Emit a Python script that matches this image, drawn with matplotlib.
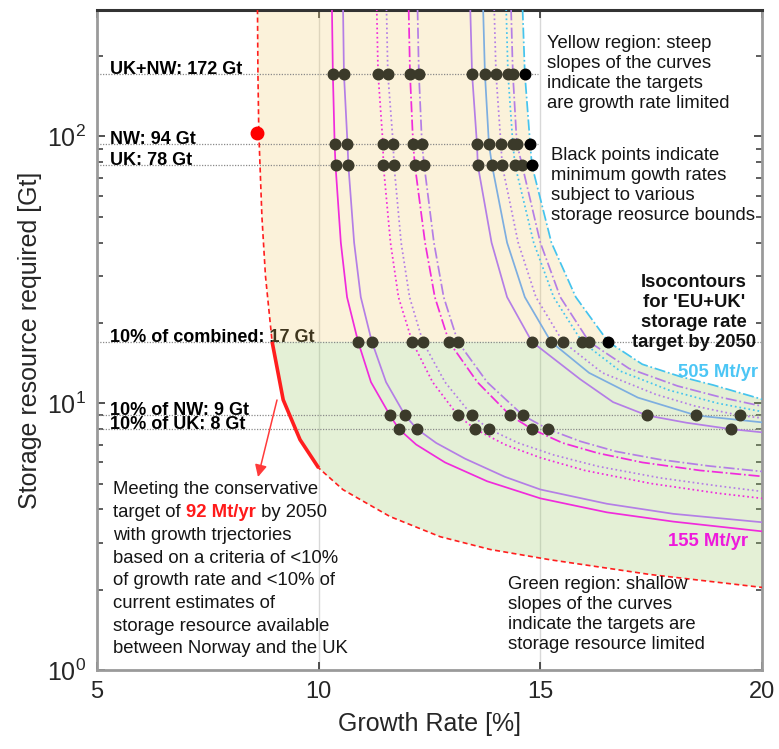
import numpy as np
import matplotlib
matplotlib.use("Agg")
import matplotlib.pyplot as plt

plt.rcParams['font.family'] = ['Liberation Sans', 'DejaVu Sans']
plt.rcParams['mathtext.fontset'] = 'custom'
plt.rcParams['mathtext.rm'] = 'Liberation Sans'
plt.rcParams['mathtext.it'] = 'Liberation Sans:italic'
plt.rcParams['mathtext.bf'] = 'Liberation Sans:bold'

# ---------------------------------------------------------------- data
# storage resource bounds [Gt]
bound_values = [172, 94, 78, 17, 9, 8]
bound_labels = ["UK+NW: 172 Gt", "NW: 94 Gt", "UK: 78 Gt",
                "10% of combined: 17 Gt", "10% of NW: 9 Gt", "10% of UK: 8 Gt"]

# conservative target (92 Mt/yr): growth rate [%] vs storage required [Gt]
red_growth = [8.62, 8.63, 8.65, 8.72, 8.80, 8.95, 9.20, 9.58, 10.00, 10.55,
              11.61, 12.74, 13.87, 15.22, 17.48, 20.00]
red_storage = [300, 172, 103, 50, 30, 17, 10.3, 7.3, 5.72, 4.74,
               3.76, 3.16, 2.83, 2.59, 2.28, 2.04]
red_point = (8.60, 103)

# isocontours of the 'EU+UK' storage rate targets
m1_growth = [10.30, 10.32, 10.36, 10.38, 10.50, 10.64, 10.89, 11.18, 11.61, 11.81,
             12.20, 12.85, 13.80, 15.00, 16.50, 18.00, 20.00]
m1_storage = [300, 172, 94, 78, 40, 25, 17, 12, 9, 8, 7.0, 6.0, 5.1, 4.40, 3.90, 3.60, 3.31]

p1_growth = [10.55, 10.57, 10.65, 10.67, 10.80, 10.95, 11.20, 11.52, 11.95, 12.22,
             12.65, 13.30, 14.20, 15.00, 16.50, 18.00, 20.00]
p1_storage = [300, 172, 94, 78, 40, 25, 17, 12, 9, 8, 7.1, 6.2, 5.3, 4.75, 4.2, 3.85, 3.58]

m2_growth = [11.31, 11.34, 11.45, 11.46, 11.62, 11.80, 12.11, 12.57, 13.14, 13.53,
             14.20, 15.00, 16.00, 17.50, 19.00, 20.00]
m2_storage = [300, 172, 94, 78, 40, 25, 17, 12, 9, 8, 7.0, 6.25, 5.6, 5.0, 4.6, 4.40]

p2_growth = [11.53, 11.56, 11.68, 11.70, 11.86, 12.05, 12.35, 12.85, 13.46, 13.84,
             14.50, 15.30, 16.30, 17.70, 19.00, 20.00]
p2_storage = [300, 172, 94, 78, 40, 25, 17, 12, 9, 8, 7.1, 6.4, 5.8, 5.25, 4.9, 4.67]

m3_growth = [12.03, 12.06, 12.13, 12.17, 12.40, 12.62, 12.94, 13.58, 14.32, 14.81,
             15.50, 16.30, 17.30, 18.60, 20.00]
m3_storage = [300, 172, 94, 78, 40, 25, 17, 12, 9, 8, 7.1, 6.5, 6.0, 5.6, 5.32]

p3_growth = [12.23, 12.26, 12.33, 12.38, 12.60, 12.82, 13.14, 13.80, 14.61, 15.17,
             15.90, 16.70, 17.70, 18.80, 20.00]
p3_storage = [300, 172, 94, 78, 40, 25, 17, 12, 9, 8, 7.2, 6.6, 6.15, 5.82, 5.55]

l1_growth = [13.42, 13.46, 13.57, 13.59, 13.90, 14.25, 14.81, 15.90, 16.64, 17.41,
             18.30, 19.30, 20.00]
l1_storage = [300, 172, 94, 78, 40, 25, 17, 12.3, 10.1, 9, 8.45, 8, 7.78]

b1_growth = [13.71, 13.75, 13.84, 13.91, 14.25, 14.65, 15.24, 16.10, 17.20, 18.52, 20.00]
b1_storage = [300, 172, 94, 78, 40, 25, 17, 13, 10.5, 9, 8.48]

l2_growth = [13.96, 14.00, 14.11, 14.14, 14.50, 14.90, 15.51, 16.40, 17.60, 18.50,
             19.50, 20.00]
l2_storage = [300, 172, 94, 78, 40, 25, 17, 13, 10.8, 9.75, 9, 8.8]

c2_growth = [14.23, 14.27, 14.38, 14.43, 14.85, 15.30, 15.94, 16.80, 17.90, 19.00, 20.00]
c2_storage = [300, 172, 94, 78, 40, 25, 17, 13.2, 11.2, 10.0, 9.3]

l3_growth = [14.34, 14.38, 14.47, 14.59, 15.00, 15.45, 16.10, 17.00, 18.10, 19.10, 20.00]
l3_storage = [300, 172, 94, 78, 40, 25, 17, 13.5, 11.6, 10.5, 9.75]

c3_growth = [14.60, 14.65, 14.77, 14.81, 15.25, 15.80, 16.53, 17.30, 18.15, 18.90, 20.00]
c3_storage = [300, 172, 94, 78, 40, 25, 17, 14.0, 12.6, 11.7, 10.35]

MAGENTA = '#F02BDC'
PURPLE = '#B47EE6'
BLUE = '#7DAEE0'
CYAN = '#45C4EE'
RED = '#FF1E1E'

curves = [
    (m1_growth, m1_storage, MAGENTA, '-'),
    (p1_growth, p1_storage, PURPLE, '-'),
    (m2_growth, m2_storage, MAGENTA, ':'),
    (p2_growth, p2_storage, PURPLE, ':'),
    (m3_growth, m3_storage, MAGENTA, '-.'),
    (p3_growth, p3_storage, PURPLE, '-.'),
    (l1_growth, l1_storage, PURPLE, '-'),
    (b1_growth, b1_storage, BLUE, '-'),
    (l2_growth, l2_storage, PURPLE, ':'),
    (c2_growth, c2_storage, CYAN, ':'),
    (l3_growth, l3_storage, PURPLE, '-.'),
    (c3_growth, c3_storage, CYAN, '-.'),
]

# ---------------------------------------------------------------- figure
W, H = 779, 749
fig = plt.figure(figsize=(W / 100, H / 100), dpi=100)
ax = fig.add_axes([97 / W, 1 - 670 / H, (762 - 97) / W, (670 - 10) / H])
ax.set_yscale('log')
ax.set_xlim(5, 20)
ax.set_ylim(1, 298)

# growth-limited (yellow) and storage-limited (green) regions
yel_x = [g for g, s in zip(red_growth, red_storage) if s >= 17] + \
        [g for g, s in zip(c3_growth, c3_storage) if s >= 17][::-1]
yel_y = [s for s in red_storage if s >= 17] + [s for s in c3_storage if s >= 17][::-1]
grn_x = [g for g, s in zip(red_growth, red_storage) if s <= 17] + \
        [g for g, s in zip(c3_growth, c3_storage) if s <= 17][::-1]
grn_y = [s for s in red_storage if s <= 17] + [s for s in c3_storage if s <= 17][::-1]
ax.fill(yel_x, yel_y, color='#F2CF72', alpha=0.26, lw=0, zorder=2)
ax.fill(grn_x, grn_y, color='#9CCB6A', alpha=0.27, lw=0, zorder=2)

# vertical grid lines
for gx in (10, 15):
    ax.axvline(gx, color='#D8D8D8', lw=1.0, zorder=0.5)

# resource bound lines and labels
ylab = ax.get_yaxis_transform()
for val, lab in zip(bound_values, bound_labels):
    x_end = 14.95 if val > 50 else 20
    ax.plot([5, x_end], [val, val], color='#8A8A8A', lw=0.9, ls=(0, (1, 1.2)), zorder=2.5)
    ax.text(0.0195, val, lab, transform=ylab, fontsize=13, fontweight='bold',
            color='black', va='baseline', ha='left', zorder=1)

# isocontours
for g, s, c, ls in curves:
    ax.plot(g, s, color=c, ls=ls, lw=1.25, zorder=3)

# conservative target curve
ax.plot(red_growth, red_storage, color=RED, ls=(0, (3, 2)), lw=1.2, zorder=3.2)
thick = [(g, s) for g, s in zip(red_growth, red_storage) if s <= 17 and g <= 10.0]
ax.plot([t[0] for t in thick], [t[1] for t in thick], color=RED, lw=2.6,
        solid_capstyle='butt', zorder=3.3)
ax.plot(*red_point, 'o', color='#FF0000', ms=9, zorder=5)

# minimum growth rates at each storage bound
for val in bound_values:
    for i, (g, s, c, ls) in enumerate(curves):
        if val in s:
            gx = g[s.index(val)]
            col = 'black' if i == len(curves) - 1 else '#3B3A2A'
            ax.plot(gx, val, 'o', color=col, ms=7.6, zorder=4)

# ---------------------------------------------------------------- annotations
txt = dict(fontsize=13.3, color='#151515', linespacing=1.22, zorder=6)
ax.text(0.677, 0.962, "Yellow region: steep\nslopes of the curves\nindicate the targets\nare growth rate limited",
        transform=ax.transAxes, va='top', ha='left', **txt)
ax.text(0.682, 0.792, "Black points indicate\nminimum gowth rates\nsubject to various\nstorage reosurce bounds",
        transform=ax.transAxes, va='top', ha='left', **txt)
ax.text(0.898, 0.600, "Isocontours\nfor 'EU+UK'\nstorage rate\ntarget by 2050",
        transform=ax.transAxes, va='top', ha='center', multialignment='center',
        fontsize=13.3, fontweight='bold', color='#111111', linespacing=1.22, zorder=6)
ax.text(0.994, 0.4515, "505 Mt/yr", transform=ax.transAxes, va='center', ha='right',
        fontsize=13.3, fontweight='bold', color='#4CC6F5', zorder=6)
ax.text(0.979, 0.194, "155 Mt/yr", transform=ax.transAxes, va='center', ha='right',
        fontsize=13.3, fontweight='bold', color='#EE1ADC', zorder=6)
ax.text(0.618, 0.142, "Green region: shallow\nslopes of the curves\nindicate the targets are\nstorage resource limited",
        transform=ax.transAxes, va='top', ha='left', **txt)

meet_lines = ["Meeting the conservative", None, "with growth trjectories",
              "based on a criteria of <10%", "of growth rate and <10% of",
              "current estimates of", "storage resource available",
              "between Norway and the UK"]
x0 = (113 - 97) / 665
y_top = (670 - 490) / 660
dy = 22.7 / 660
fig.canvas.draw()
renderer = fig.canvas.get_renderer()
for k, line in enumerate(meet_lines):
    yk = y_top - k * dy
    if line is not None:
        ax.text(x0, yk, line, transform=ax.transAxes, va='center', ha='left',
                fontsize=13.3, color='#151515', zorder=6)
    else:
        t1 = ax.text(x0, yk, "target of ", transform=ax.transAxes, va='center', ha='left',
                     fontsize=13.3, color='#151515', zorder=6)
        bb = t1.get_window_extent(renderer).transformed(ax.transAxes.inverted())
        t2 = ax.text(bb.x1, yk, "92 Mt/yr", transform=ax.transAxes, va='center', ha='left',
                     fontsize=13.3, fontweight='bold', color='#FF1A1A', zorder=6)
        bb2 = t2.get_window_extent(renderer).transformed(ax.transAxes.inverted())
        ax.text(bb2.x1, yk, " by 2050", transform=ax.transAxes, va='center', ha='left',
                fontsize=13.3, color='#151515', zorder=6)

ax.annotate("", xy=((258 - 97) / 665, (670 - 477) / 660),
            xytext=((277 - 97) / 665, (670 - 400) / 660),
            xycoords=ax.transAxes, textcoords=ax.transAxes,
            arrowprops=dict(arrowstyle='-|>', color='#FF3A3A', lw=1.1,
                            mutation_scale=18, shrinkA=0, shrinkB=0), zorder=6)

# ---------------------------------------------------------------- axes styling
ax.set_xticks([5, 10, 15, 20])
ax.set_xticklabels(['5', '10', '15', '20'])
ax.tick_params(axis='both', which='major', direction='in', length=6, width=1.2,
               color='#333333', labelsize=17, labelcolor='#262626',
               top=True, right=True, pad=8)
ax.tick_params(axis='y', which='minor', direction='in', length=4, width=1.1,
               color='#333333', right=True, left=True)
ax.tick_params(axis='y', which='major', labelsize=18)
for side in ('left', 'right', 'bottom'):
    ax.spines[side].set_color('#9A9A9A')
    ax.spines[side].set_linewidth(2.0)
ax.spines['top'].set_color('#333333')
ax.spines['top'].set_linewidth(2.2)

ax.set_xlabel("Growth Rate [%]", fontsize=18, color='#262626')
ax.set_ylabel("Storage resource required [Gt]", fontsize=18, color='#262626')
ax.xaxis.set_label_coords(0.5, (670 - 712) / 660)
ax.yaxis.set_label_coords((42 - 97) / 665, 0.5)

fig.savefig("out.png", dpi=100)
